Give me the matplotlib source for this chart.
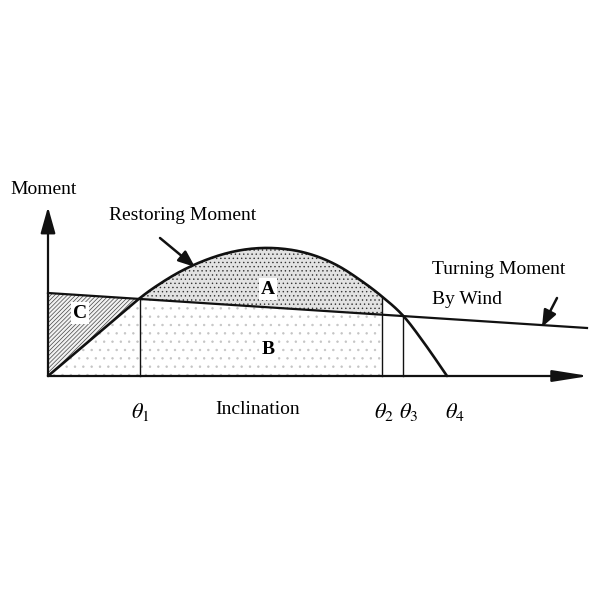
import matplotlib
matplotlib.use("Agg")
import matplotlib.pyplot as plt
import numpy as np

plt.rcParams["font.family"] = ["Liberation Serif", "DejaVu Serif"]
plt.rcParams["mathtext.fontset"] = "stix"
plt.rcParams["hatch.linewidth"] = 0.5

# restoring moment curve (inclination, moment)
incl = [0, 30, 60, 92, 112, 132, 152, 172, 192, 212, 232, 252,
        272, 292, 312, 332, 355, 377, 399]
restoring = [0, 25.5, 51, 78, 92.3, 104.3, 113.7, 120.9, 125.7, 127.9,
             127.5, 124.5, 118.5, 109.1, 96.1, 81.1, 60.4, 31.8, 0]

# turning moment by wind (straight line)
wind_x = [0, 539]
wind_m = [83, 48]

theta_pos = [92, 334, 355, 398]
theta_labels = [r"$\theta_1$", r"$\theta_2$", r"$\theta_3$", r"$\theta_4$"]


def smooth(xs, ys, n=12):
    # catmull-rom through the read points, just for a rounder line
    p = np.column_stack([xs, ys]).astype(float)
    p = np.vstack([p[0], p, p[-1]])
    out = []
    t = np.linspace(0, 1, n, endpoint=False)[:, None]
    for i in range(1, len(p) - 2):
        p0, p1, p2, p3 = p[i - 1], p[i], p[i + 1], p[i + 2]
        seg = 0.5 * ((2 * p1) + (-p0 + p2) * t
                     + (2 * p0 - 5 * p1 + 4 * p2 - p3) * t ** 2
                     + (-p0 + 3 * p1 - 3 * p2 + p3) * t ** 3)
        out.append(seg)
    out.append(p[-2][None, :])
    out = np.vstack(out)
    return out[:, 0], out[:, 1]


cx, cy = smooth(incl, restoring)

fig = plt.figure(figsize=(6, 6), dpi=100)
ax = fig.add_axes([0, 0, 1, 1])
ax.set_xlim(-48, 552)
ax.set_ylim(-224, 376)
ax.axis("off")


def wind_at(x):
    return np.interp(x, wind_x, wind_m)


def rest_at(x):
    return np.interp(x, cx, cy)


t1, t2, t3, t4 = theta_pos

# C: between wind line and restoring curve up to theta1
xc = np.linspace(0, t1, 80)
ax.fill_between(xc, rest_at(xc), wind_at(xc), facecolor="#f2f2f2",
                edgecolor="#444444", hatch="////////", linewidth=0)
# light dots under the restoring curve up to theta1
ax.fill_between(xc, 0, rest_at(xc), facecolor="white",
                edgecolor="#c4c4c4", hatch="..", linewidth=0)
# B: under wind line theta1 -> theta2
xb = np.linspace(t1, t2, 200)
ax.fill_between(xb, 0, wind_at(xb), facecolor="white",
                edgecolor="#c4c4c4", hatch="..", linewidth=0)
# A: between restoring curve and wind line theta1 -> theta2
ax.fill_between(xb, wind_at(xb), rest_at(xb), facecolor="#e2e2e2",
                edgecolor="#333333", hatch="....", linewidth=0)

# curves
ax.plot(cx, cy, color="#111111", lw=1.9, solid_capstyle="round")
ax.plot(wind_x, wind_m, color="#111111", lw=1.6)

# vertical lines at theta1..theta3
for t in (t1, t2, t3):
    ax.plot([t, t], [0, rest_at(t)], color="#111111", lw=1.0)

# axes with arrows
ax.annotate("", xy=(541, 0), xytext=(0, 0),
            arrowprops=dict(arrowstyle="-|>,head_length=2.2,head_width=0.35",
                            color="#111111", lw=1.6, shrinkA=0, shrinkB=0))
ax.annotate("", xy=(0, 169), xytext=(0, 0),
            arrowprops=dict(arrowstyle="-|>,head_length=1.6,head_width=0.45",
                            color="#111111", lw=1.6, shrinkA=0, shrinkB=0))

# pointer arrows
ax.annotate("", xy=(147, 109), xytext=(112, 138),
            arrowprops=dict(arrowstyle="-|>,head_length=1.0,head_width=0.4",
                            color="#111111", lw=1.8, shrinkA=0, shrinkB=0))
ax.annotate("", xy=(494, 49), xytext=(509, 78),
            arrowprops=dict(arrowstyle="-|>,head_length=1.0,head_width=0.4",
                            color="#111111", lw=1.8, shrinkA=0, shrinkB=0))

fs = 14
ax.text(-38, 186, "Moment", fontsize=fs, va="center", ha="left")
ax.text(135, 160, "Restoring Moment", fontsize=fs, va="center", ha="center")
ax.text(384, 107, "Turning Moment", fontsize=fs, va="center", ha="left")
ax.text(384, 76, "By Wind", fontsize=fs, va="center", ha="left")
ax.text(210, -34, "Inclination", fontsize=fs, va="center", ha="center")

for pos, lab, dx in zip(theta_pos, theta_labels, [0, 2, 6, 9]):
    ax.text(pos + dx, -36, lab, fontsize=fs + 2, va="center", ha="center")

bbox = dict(facecolor="white", edgecolor="none", pad=1.5)
ax.text(220, 87, "A", fontsize=fs, fontweight="bold", ha="center",
        va="center", bbox=bbox)
ax.text(220, 27, "B", fontsize=fs, fontweight="bold", ha="center",
        va="center", bbox=bbox)
ax.text(32, 63, "C", fontsize=fs, fontweight="bold", ha="center",
        va="center", bbox=bbox)

fig.savefig("out.png", dpi=100, facecolor="white")
